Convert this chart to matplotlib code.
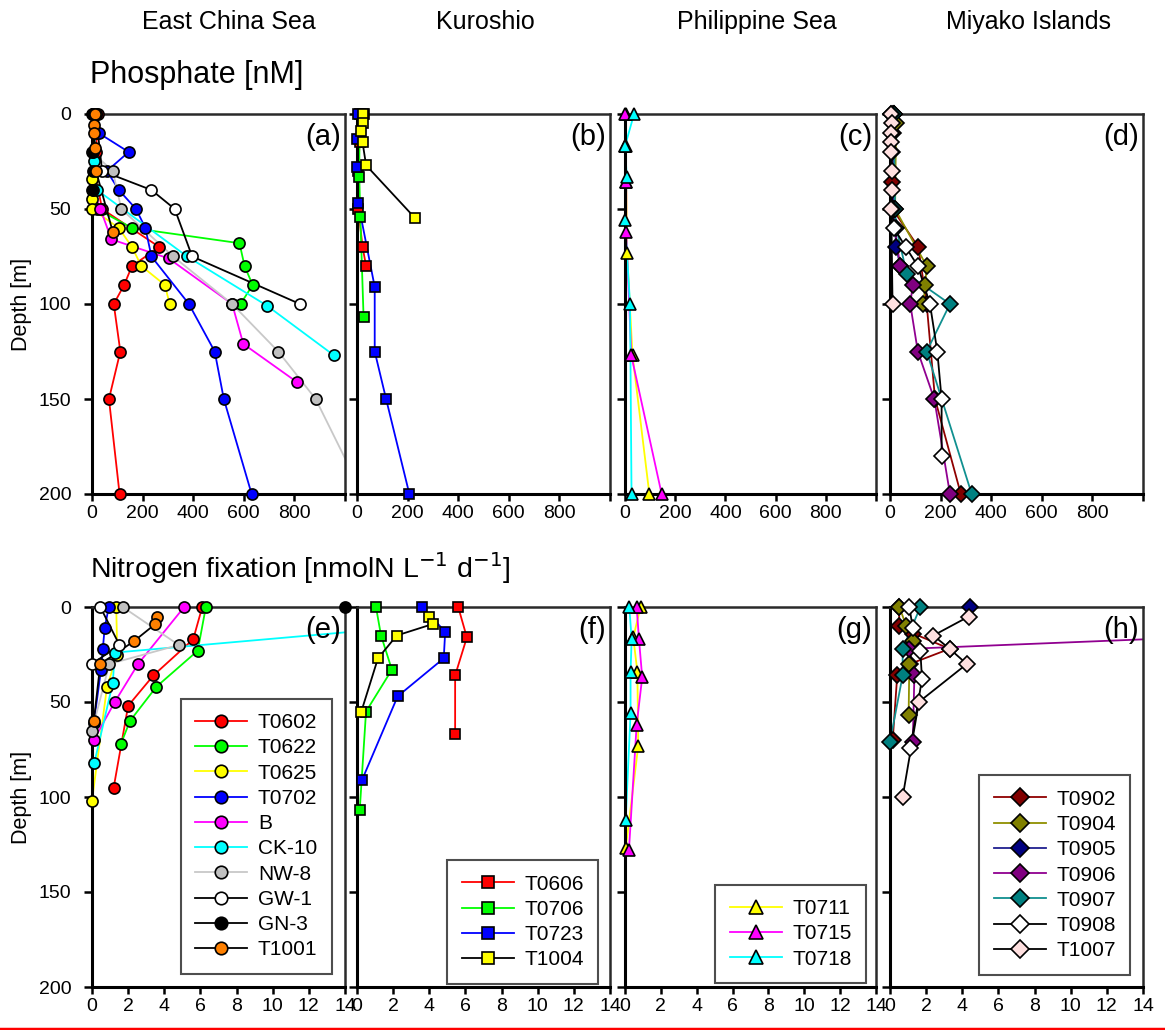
import numpy as np
import matplotlib.pyplot as plt
from matplotlib.lines import Line2D

plt.rcParams['font.family'] = ['Liberation Sans', 'DejaVu Sans']

# ---- (a) East China Sea, phosphate [nM]
a_t0602_d = [0, 10, 20, 30, 50, 70, 80, 90, 100, 125, 150, 200]
a_t0602_v = [25, 20, 15, 10, 40, 266, 158, 127, 86, 112, 67, 109]
a_t0622_d = [0, 30, 50, 60, 68, 80, 90, 100]
a_t0622_v = [5, 10, 20, 158, 583, 603, 635, 587]
a_t0625_d = [0, 34, 40, 45, 50, 60, 70, 80, 90, 100]
a_t0625_v = [0, 0, 0, 0, 0, 106, 158, 195, 288, 307]
a_t0702_d = [0, 10, 20, 30, 40, 50, 60, 75, 100, 125, 150, 200]
a_t0702_v = [13, 26, 145, 59, 106, 174, 211, 235, 383, 485, 521, 631]
a_b_d = [0, 40, 50, 66, 76, 100, 121, 141]
a_b_v = [5, 5, 33, 77, 303, 554, 598, 809]
a_ck10_d = [0, 25, 40, 75, 101, 127]
a_ck10_v = [15, 7, 20, 376, 693, 956]
a_nw8_d = [0, 20, 30, 50, 75, 100, 125, 150, 200]
a_nw8_v = [5, 0, 82, 116, 321, 554, 736, 884, 1070]
a_gw1_d = [0, 30, 40, 50, 75, 100]
a_gw1_v = [15, 40, 235, 327, 396, 822]
a_gn3_d = [0, 20, 30, 40]
a_gn3_v = [5, 3, 5, 2]
a_t1001_d = [0, 6, 10, 18, 30, 62]
a_t1001_v = [10, 7, 7, 13, 16, 82]

# ---- (b) Kuroshio, phosphate [nM]
b_t0606_d = [0, 15, 30, 50, 70, 80]
b_t0606_v = [29, 10, 5, 5, 22, 36]
b_t0706_d = [0, 33, 54, 107]
b_t0706_v = [10, 9, 13, 26]
b_t0723_d = [0, 13, 28, 47, 91, 125, 150, 200]
b_t0723_v = [3, 0, 0, 5, 70, 70, 115, 207]
b_t1004_d = [0, 5, 9, 15, 27, 55]
b_t1004_v = [25, 22, 16, 22, 36, 231]

# ---- (c) Philippine Sea, phosphate [nM]
c_t0711_d = [0, 17, 36, 73, 127, 200]
c_t0711_v = [3, 3, 5, 8, 30, 97]
c_t0715_d = [0, 17, 36, 62, 127, 200]
c_t0715_v = [0, 0, 5, 5, 25, 146]
c_t0718_d = [0, 17, 33, 56, 100, 200]
c_t0718_v = [36, 0, 7, 0, 20, 26]

# ---- (d) Miyako Islands, phosphate [nM]
d_t0902_d = [0, 10, 20, 36, 50, 70, 100, 150, 200]
d_t0902_v = [15, 10, 8, 7, 10, 112, 145, 178, 280]
d_t0904_d = [0, 5, 50, 80, 90, 100]
d_t0904_v = [15, 24, 20, 145, 139, 132]
d_t0905_d = [0, 50, 70, 80]
d_t0905_v = [12, 14, 25, 40]
d_t0906_d = [0, 50, 80, 90, 100, 125, 150, 200]
d_t0906_v = [10, 8, 40, 90, 80, 110, 175, 237]
d_t0907_d = [0, 50, 60, 84, 100, 125, 200]
d_t0907_v = [15, 20, 25, 66, 237, 145, 323]
d_t0908_d = [0, 50, 60, 70, 80, 100, 125, 150, 180]
d_t0908_v = [5, 8, 15, 62, 110, 158, 187, 204, 204]
d_t1007_d = [0, 5, 10, 15, 20, 30, 40, 50, 100]
d_t1007_v = [5, 8, 5, 5, 5, 7, 7, 5, 10]

# ---- (e) East China Sea, N2 fixation [nmolN L-1 d-1]
e_t0602_d = [0, 17, 36, 52, 95]
e_t0602_v = [6.1, 5.6, 3.4, 2.0, 1.2]
e_t0622_d = [0, 23, 42, 60, 72]
e_t0622_v = [6.3, 5.85, 3.56, 2.1, 1.6]
e_t0625_d = [0, 25, 42, 102]
e_t0625_v = [1.34, 1.4, 0.83, 0.0]
e_t0702_d = [0, 11, 22, 33, 61]
e_t0702_v = [0.93, 0.7, 0.6, 0.5, 0.1]
e_b_d = [0, 30, 50, 70]
e_b_v = [5.1, 2.55, 1.26, 0.1]
e_ck10_d = [10, 24, 40, 82]
e_ck10_v = [18.0, 1.26, 1.15, 0.13]
e_nw8_d = [0, 20, 30, 65]
e_nw8_v = [1.7, 4.8, 0.96, 0.0]
e_gw1_d = [0, 20, 30]
e_gw1_v = [0.46, 1.52, 0.0]
e_gn3_d = [0]
e_gn3_v = [14.0]
e_t1001_d = [5, 9, 18, 30, 60]
e_t1001_v = [3.6, 3.5, 2.32, 0.46, 0.1]

# ---- (f) Kuroshio
f_t0606_d = [0, 16, 36, 67]
f_t0606_v = [5.6, 6.08, 5.43, 5.43]
f_t0706_d = [0, 15, 33, 55, 107]
f_t0706_v = [1.05, 1.33, 1.93, 0.5, 0.15]
f_t0723_d = [0, 13, 27, 47, 91]
f_t0723_v = [3.6, 4.88, 4.8, 2.25, 0.28]
f_t1004_d = [5, 9, 15, 27, 55]
f_t1004_v = [3.96, 4.18, 2.2, 1.16, 0.24]

# ---- (g) Philippine Sea
g_t0711_d = [0, 16, 34, 73, 127]
g_t0711_v = [0.87, 0.46, 0.69, 0.74, 0.04]
g_t0715_d = [0, 17, 37, 62, 128]
g_t0715_v = [0.65, 0.78, 0.96, 0.65, 0.22]
g_t0718_d = [0, 17, 34, 56, 112]
g_t0718_v = [0.24, 0.37, 0.31, 0.31, 0.04]

# ---- (h) Miyako Islands
h_t0902_d = [0, 10, 14, 22, 30, 36, 70]
h_t0902_v = [0.5, 0.52, 1.3, 3.3, 1.1, 0.4, 0.15]
h_t0904_d = [0, 10, 18, 30, 57]
h_t0904_v = [0.52, 0.9, 1.26, 1.07, 1.03]
h_t0905_d = [0]
h_t0905_v = [4.43]
h_t0906_d = [15, 22, 36, 71]
h_t0906_v = [19.3, 1.07, 1.35, 1.26]
h_t0907_d = [0, 22, 36, 71]
h_t0907_v = [1.68, 0.7, 0.7, 0.0]
h_t0908_d = [0, 11, 23, 38, 74]
h_t0908_v = [1.07, 1.26, 1.68, 1.77, 1.13]
h_t1007_d = [5, 15, 22, 30, 50, 100]
h_t1007_v = [4.36, 2.4, 3.3, 4.25, 1.6, 0.7]

ecs_names = ['T0602', 'T0622', 'T0625', 'T0702', 'B', 'CK-10', 'NW-8', 'GW-1', 'GN-3', 'T1001']
kur_names = ['T0606', 'T0706', 'T0723', 'T1004']
phs_names = ['T0711', 'T0715', 'T0718']
miy_names = ['T0902', 'T0904', 'T0905', 'T0906', 'T0907', 'T0908', 'T1007']

col_titles = ['East China Sea', 'Kuroshio', 'Philippine Sea', 'Miyako Islands']
depth_ticks = [0, 50, 100, 150, 200]

# styles (face colour, line colour)
ecs_sty = [('#ff0000', '#ff0000'), ('#00ff00', '#00ff00'), ('#ffff00', '#ffff00'),
           ('#0000ff', '#0000ff'), ('#ff00ff', '#ff00ff'), ('#00ffff', '#00ffff'),
           ('#c0c0c0', '#c8c8c8'), ('#ffffff', '#000000'), ('#000000', '#000000'),
           ('#ff8000', '#000000')]
kur_sty = [('#ff0000', '#ff0000'), ('#00ff00', '#00ff00'), ('#0000ff', '#0000ff'),
           ('#ffff00', '#000000')]
phs_sty = [('#ffff00', '#ffff00'), ('#ff00ff', '#ff00ff'), ('#00ffff', '#00ffff')]
miy_sty = [('#800000', '#900000'), ('#808000', '#909000'), ('#000080', '#202090'),
           ('#800080', '#900090'), ('#008080', '#109090'), ('#ffffff', '#000000'),
           ('#ffe0e0', '#000000')]

top_data = [
    [(a_t0602_d, a_t0602_v), (a_t0622_d, a_t0622_v), (a_t0625_d, a_t0625_v), (a_t0702_d, a_t0702_v),
     (a_b_d, a_b_v), (a_ck10_d, a_ck10_v), (a_nw8_d, a_nw8_v), (a_gw1_d, a_gw1_v),
     (a_gn3_d, a_gn3_v), (a_t1001_d, a_t1001_v)],
    [(b_t0606_d, b_t0606_v), (b_t0706_d, b_t0706_v), (b_t0723_d, b_t0723_v), (b_t1004_d, b_t1004_v)],
    [(c_t0711_d, c_t0711_v), (c_t0715_d, c_t0715_v), (c_t0718_d, c_t0718_v)],
    [(d_t0902_d, d_t0902_v), (d_t0904_d, d_t0904_v), (d_t0905_d, d_t0905_v), (d_t0906_d, d_t0906_v),
     (d_t0907_d, d_t0907_v), (d_t0908_d, d_t0908_v), (d_t1007_d, d_t1007_v)],
]
bot_data = [
    [(e_t0602_d, e_t0602_v), (e_t0622_d, e_t0622_v), (e_t0625_d, e_t0625_v), (e_t0702_d, e_t0702_v),
     (e_b_d, e_b_v), (e_ck10_d, e_ck10_v), (e_nw8_d, e_nw8_v), (e_gw1_d, e_gw1_v),
     (e_gn3_d, e_gn3_v), (e_t1001_d, e_t1001_v)],
    [(f_t0606_d, f_t0606_v), (f_t0706_d, f_t0706_v), (f_t0723_d, f_t0723_v), (f_t1004_d, f_t1004_v)],
    [(g_t0711_d, g_t0711_v), (g_t0715_d, g_t0715_v), (g_t0718_d, g_t0718_v)],
    [(h_t0902_d, h_t0902_v), (h_t0904_d, h_t0904_v), (h_t0905_d, h_t0905_v), (h_t0906_d, h_t0906_v),
     (h_t0907_d, h_t0907_v), (h_t0908_d, h_t0908_v), (h_t1007_d, h_t1007_v)],
]

names = [ecs_names, kur_names, phs_names, miy_names]
styles = [ecs_sty, kur_sty, phs_sty, miy_sty]
markers = ['o', 's', '^', 'D']
msizes = [8, 7.5, 8.5, 8]
letters = ['(a)', '(b)', '(c)', '(d)', '(e)', '(f)', '(g)', '(h)']

fig = plt.figure(figsize=(11.65, 10.3), dpi=100)

lefts = [92, 357, 625, 890]
widths = [253, 253, 251, 253]


def style_axes(ax):
    for s in ['left', 'bottom']:
        ax.spines[s].set_linewidth(2.2)
        ax.spines[s].set_color('black')
    for s in ['top', 'right']:
        ax.spines[s].set_linewidth(1.8)
        ax.spines[s].set_color('#2a2a2a')
    ax.tick_params(axis='y', direction='out', length=6, width=1.8, pad=9, labelsize=14)
    ax.tick_params(axis='x', direction='out', length=5, width=1.8, pad=3, labelsize=14)


def draw_station(ax, d, v, face, line, mk, ms, xmax):
    d = np.array(d, float)
    v = np.array(v, float)
    ax.plot(v, d, '-', color=line, lw=1.3, zorder=2)
    keep = v <= xmax
    ax.plot(v[keep], d[keep], ls='none', marker=mk, ms=ms, mfc=face, mec='black',
            mew=1.2, clip_on=False, zorder=3)


for row, (data, xmax, ticks) in enumerate([(top_data, 1000, [0, 200, 400, 600, 800, 1000]),
                                            (bot_data, 14, list(range(0, 15, 2)))]):
    bottom = (1030 - 494) / 1030 if row == 0 else (1030 - 987) / 1030
    for col in range(4):
        ax = fig.add_axes([lefts[col] / 1165, bottom, widths[col] / 1165, 380 / 1030])
        for i, (d, v) in enumerate(data[col]):
            face, line = styles[col][i]
            draw_station(ax, d, v, face, line, markers[col], msizes[col], xmax)
        ax.set_xlim(0, xmax)
        ax.set_ylim(200, 0)
        ax.set_yticks(depth_ticks)
        ax.set_xticks(ticks)
        if row == 0:
            ax.set_xticklabels([str(t) for t in ticks[:-1]] + [''])
        style_axes(ax)
        if col == 0:
            ax.set_ylabel('Depth [m]', fontsize=15.5, labelpad=5)
        else:
            ax.set_yticklabels([])
        ax.text(0.985, 0.975, letters[row * 4 + col], transform=ax.transAxes,
                ha='right', va='top', fontsize=21)

        if row == 1:
            handles = [Line2D([], [], color=styles[col][i][1], lw=1.3, marker=markers[col],
                              ms=msizes[col] + 1, mfc=styles[col][i][0], mec='black', mew=1.2)
                       for i in range(len(names[col]))]
            anchors = [(0.948, 0.034), (0.953, 0.008), (0.96, 0.01), (0.949, 0.032)]
            leg = ax.legend(handles, names[col], loc='lower right', bbox_to_anchor=anchors[col],
                            fontsize=15, frameon=True, fancybox=False, labelspacing=0.3,
                            handlelength=2.5, handletextpad=0.5, borderpad=0.7,
                            borderaxespad=0)
            leg.get_frame().set_edgecolor('#222222')
            leg.get_frame().set_linewidth(1.5)

# column headers and row titles
for x, t in zip([229, 485, 757, 1029], col_titles):
    fig.text(x / 1165, 1 - 22 / 1030, t, ha='center', va='center', fontsize=18)
fig.text(90 / 1165, 1 - 75 / 1030, 'Phosphate [nM]', ha='left', va='center', fontsize=22)
fig.text(90 / 1165, 1 - 568 / 1030, r'Nitrogen fixation [nmolN L$^{-1}$ d$^{-1}$]',
         ha='left', va='center', fontsize=20.5)

fig.add_artist(Line2D([0, 1], [1.5 / 1030, 1.5 / 1030], color='red', lw=2.5,
                      transform=fig.transFigure))

fig.savefig('out.png', dpi=100)
